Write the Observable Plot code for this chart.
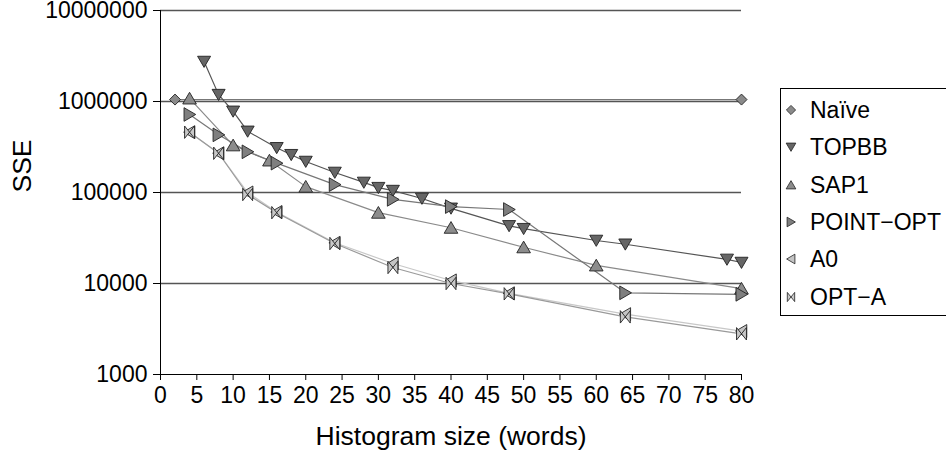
<!DOCTYPE html>
<html>
<head>
<meta charset="utf-8">
<script src="https://cdn.jsdelivr.net/npm/d3@7"></script>
<script src="https://cdn.jsdelivr.net/npm/@observablehq/plot@0.6"></script>
<style>
  html, body { margin: 0; padding: 0; background: #fff; overflow: hidden; }
  #wrap { position: relative; width: 946px; height: 461px; font-family: "Liberation Sans", Arial, sans-serif; }
  #legend { position: absolute; left: 780px; top: 88px; width: 190px; height: 228px; border: 1px solid #000; box-sizing: border-box; background: #fff; }
  .item { position: absolute; left: 0; height: 30px; display: flex; align-items: center; font-size: 23px; color: #000; white-space: nowrap; }
  .item svg { margin-left: 3px; margin-right: 12px; }
</style>
</head>
<body>
<div id="wrap"></div>
<script>
// ---- data ----
const seriesNames = ["Naïve", "TOPBB", "SAP1", "POINT\u2212OPT", "A0", "OPT\u2212A"];

const xNaive = [2, 80];
const yNaive = [1.05e6, 1.05e6];

const xTopbb = [6, 8, 10, 12, 16, 18, 20, 24, 28, 30, 32, 36, 40, 48, 50, 60, 64, 78, 80];
const yTopbb = [2.75e6, 1.19e6, 7.8e5, 4.7e5, 3.1e5, 2.6e5, 2.19e5, 1.66e5, 1.29e5, 1.13e5, 1.05e5, 8.6e4, 6.7e4, 4.3e4, 4.0e4, 2.97e4, 2.7e4, 1.84e4, 1.7e4];

const xSap1 = [4, 10, 15, 20, 30, 40, 50, 60, 80];
const ySap1 = [1.08e6, 3.3e5, 2.25e5, 1.16e5, 6.0e4, 4.1e4, 2.5e4, 1.58e4, 8.8e3];

const xPointOpt = [4, 8, 12, 16, 24, 32, 40, 48, 64, 80];
const yPointOpt = [7.2e5, 4.3e5, 2.8e5, 2.1e5, 1.22e5, 8.4e4, 7.0e4, 6.5e4, 7.9e3, 7.6e3];

const xA0 = [4, 8, 12, 16, 24, 32, 40, 48, 64, 80];
const yA0 = [4.6e5, 2.7e5, 1.0e5, 6.1e4, 2.8e4, 1.66e4, 1.08e4, 7.8e3, 4.6e3, 3.0e3];

const xOptA = [4, 8, 12, 16, 24, 32, 40, 48, 64, 80];
const yOptA = [4.6e5, 2.7e5, 9.5e4, 6.0e4, 2.75e4, 1.5e4, 1.0e4, 7.7e3, 4.3e3, 2.8e3];

const xTicks = d3.range(0, 81, 5);
const yTicks = [1000, 10000, 100000, 1000000, 10000000];

// ---- styles ----
const mk = (pts) => ({
  draw(ctx, size) {
    const r = Math.sqrt(size / Math.PI);
    ctx.moveTo(pts[0][0] * r, pts[0][1] * r);
    for (let i = 1; i < pts.length; i++) ctx.lineTo(pts[i][0] * r, pts[i][1] * r);
    ctx.closePath();
  }
});
const symbols = [
  mk([[0, -1], [1, 0], [0, 1], [-1, 0]]),
  mk([[-1.05, -0.85], [1.05, -0.85], [0, 0.95]]),
  mk([[0, -0.95], [1.05, 0.85], [-1.05, 0.85]]),
  mk([[-0.85, -1.05], [-0.85, 1.05], [0.95, 0]]),
  mk([[0.85, -1.05], [0.85, 1.05], [-0.95, 0]]),
  mk([[-0.8, -1], [0.8, 1], [0.8, -1], [-0.8, 1]])
];
const fills = ["#8a8a8a", "#666666", "#8c8c8c", "#7f7f7f", "#c4c4c4", "#c8c8c8"];
const lineColors = ["#777777", "#555555", "#8a8a8a", "#777777", "#c8c8c8", "#9a9a9a"];
const radii = [5.5, 6.2, 6.5, 6.5, 6.2, 6.2];

const xs = [xNaive, xTopbb, xSap1, xPointOpt, xA0, xOptA];
const ys = [yNaive, yTopbb, ySap1, yPointOpt, yA0, yOptA];
const tables = xs.map((xv, i) => xv.map((x, j) => ({x, y: ys[i][j], s: seriesNames[i]})));

const marks = [
  Plot.ruleY(yTicks.slice(1), {x1: 0, x2: 80, stroke: "#555", strokeWidth: 1.5}),
  Plot.ruleY([1000], {x1: 0, x2: 80, stroke: "#000", strokeWidth: 1}),
  Plot.ruleX([0], {y1: 1000, y2: 1e7, stroke: "#000", strokeWidth: 1})
];
tables.forEach((t, i) => {
  marks.push(Plot.line(t, {x: "x", y: "y", stroke: lineColors[i], strokeWidth: 1.2}));
});
tables.forEach((t, i) => {
  marks.push(Plot.dot(t, {x: "x", y: "y", symbol: symbols[i], r: radii[i], fill: fills[i], stroke: "#222", strokeWidth: 0.9}));
});
marks.push(Plot.text(["Histogram size (words)"], {frameAnchor: "bottom", dy: 70, fontSize: 26.5}));
marks.push(Plot.text(["SSE"], {frameAnchor: "left", dx: -138, rotate: -90, fontSize: 26.5}));

const chart = Plot.plot({
  width: 946,
  height: 461,
  marginLeft: 160,
  marginRight: 205,
  marginTop: 10,
  marginBottom: 87,
  style: {fontFamily: "'Liberation Sans', Arial, sans-serif", fontSize: "23px", background: "#fff", color: "#000", overflow: "visible"},
  x: {domain: [0, 80], ticks: xTicks, tickSize: 6, tickPadding: 6, label: null},
  y: {type: "log", domain: [1000, 1e7], ticks: yTicks, tickFormat: d => String(d), tickSize: 7, tickPadding: 6, label: null},
  marks
});
const wrap = document.getElementById("wrap");
wrap.appendChild(chart);

// ---- legend ----
const legend = document.createElement("div");
legend.id = "legend";
const rowY = [21, 58, 96, 133, 170, 208];
seriesNames.forEach((name, i) => {
  const item = document.createElement("div");
  item.className = "item";
  item.style.top = (rowY[i] - 15) + "px";
  const p = d3.path();
  symbols[i].draw(p, Math.PI * 4.6 * 4.6);
  item.innerHTML = `<svg width="14" height="14" viewBox="-7 -7 14 14"><path d="${p.toString()}" fill="${fills[i]}" stroke="#222" stroke-width="0.8"/></svg><span>${name}</span>`;
  legend.appendChild(item);
});
wrap.appendChild(legend);
</script>
</body>
</html>
